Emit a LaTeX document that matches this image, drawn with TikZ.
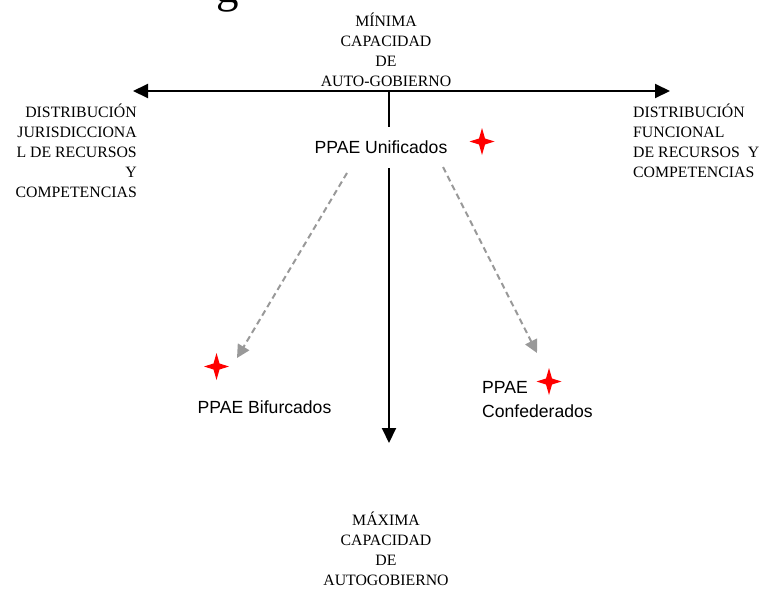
\documentclass[tikz,border=0pt]{standalone}
\usepackage{fontspec}
\setmainfont{Liberation Serif}
\newfontfamily\arialfont{Liberation Sans}
\usetikzlibrary{arrows.meta}

\definecolor{dashgray}{RGB}{153,153,153}
\definecolor{starred}{RGB}{255,0,0}

\tikzset{
  axis/.style={line width=2pt, black, -{Triangle[length=15pt,width=14pt]}},
  trend/.style={line width=2pt, dashgray, dash pattern=on 6pt off 4pt,
                -{Triangle[length=13pt,width=13pt]}},
  captxt/.style={inner sep=0pt, font=\fontsize{15.8}{20}\selectfont},
  casetxt/.style={inner sep=0pt, font=\arialfont\fontsize{17.6}{23.5}\selectfont},
  redstar/.pic={
    \fill[starred] (0,-13.5) -- (3,-3) -- (12.5,0) -- (3,3) -- (0,13.5)
      -- (-3,3) -- (-12.5,0) -- (-3,-3) -- cycle;
  }
}

\begin{document}
\begin{tikzpicture}[x=1pt,y=-1pt]
  \useasboundingbox (0,0) rectangle (760,589);

  % heading fragment above the chart (only its descender falls inside)
  \node[inner sep=0pt, font=\fontsize{45}{50}\selectfont, anchor=base] (head) at (228,2) {g};

  % axis end points
  \coordinate (west) at (133,91);
  \coordinate (east) at (670,91);
  \coordinate (top) at (389,91);
  \coordinate (bottom) at (389,443);

  % axes
  \draw[axis, {Triangle[length=15pt,width=14pt]}-{Triangle[length=15pt,width=14pt]}] (west) -- (east);
  \draw[axis] (top) -- (bottom);

  % axis captions (anchored on the baseline of their last line)
  \node[captxt, align=center, anchor=base] (mincap) at (386,86.3)
    {MÍNIMA\\CAPACIDAD\\DE\\AUTO-GOBIERNO};
  \node[captxt, align=right, anchor=base east] (jurcap) at (137,197.5)
    {DISTRIBUCIÓN\\JURISDICCIONA\\L DE RECURSOS\\Y\\COMPETENCIAS};
  \node[captxt, align=left, anchor=base west] (funcap) at (633,177.5)
    {DISTRIBUCIÓN\\FUNCIONAL\\DE RECURSOS\ \ Y\\COMPETENCIAS};
  \node[captxt, align=center, anchor=base] (maxcap) at (386,585.5)
    {MÁXIMA\\CAPACIDAD\\DE\\AUTOGOBIERNO};

  % cases
  \node[casetxt, fill=white, inner xsep=2pt, minimum height=41pt] (unif) at (381,147)
    {PPAE Unificados};
  \node[casetxt] (bifur) at (264.5,407) {PPAE Bifurcados};
  \node[casetxt, align=left, anchor=base west] (confed) at (482,417.3)
    {PPAE\\Confederados};

  % markers
  \pic at (482,141.5) {redstar};
  \pic at (216.5,366.5) {redstar};
  \pic at (549,381.5) {redstar};

  % trends from the unified case
  \coordinate (ustartL) at (347,173);
  \coordinate (ustartR) at (443,167);
  \coordinate (bifend) at (237,358);
  \coordinate (conend) at (537,353);
  \draw[trend] (ustartL) -- (bifend);
  \draw[trend] (ustartR) -- (conend);
\end{tikzpicture}
\end{document}
